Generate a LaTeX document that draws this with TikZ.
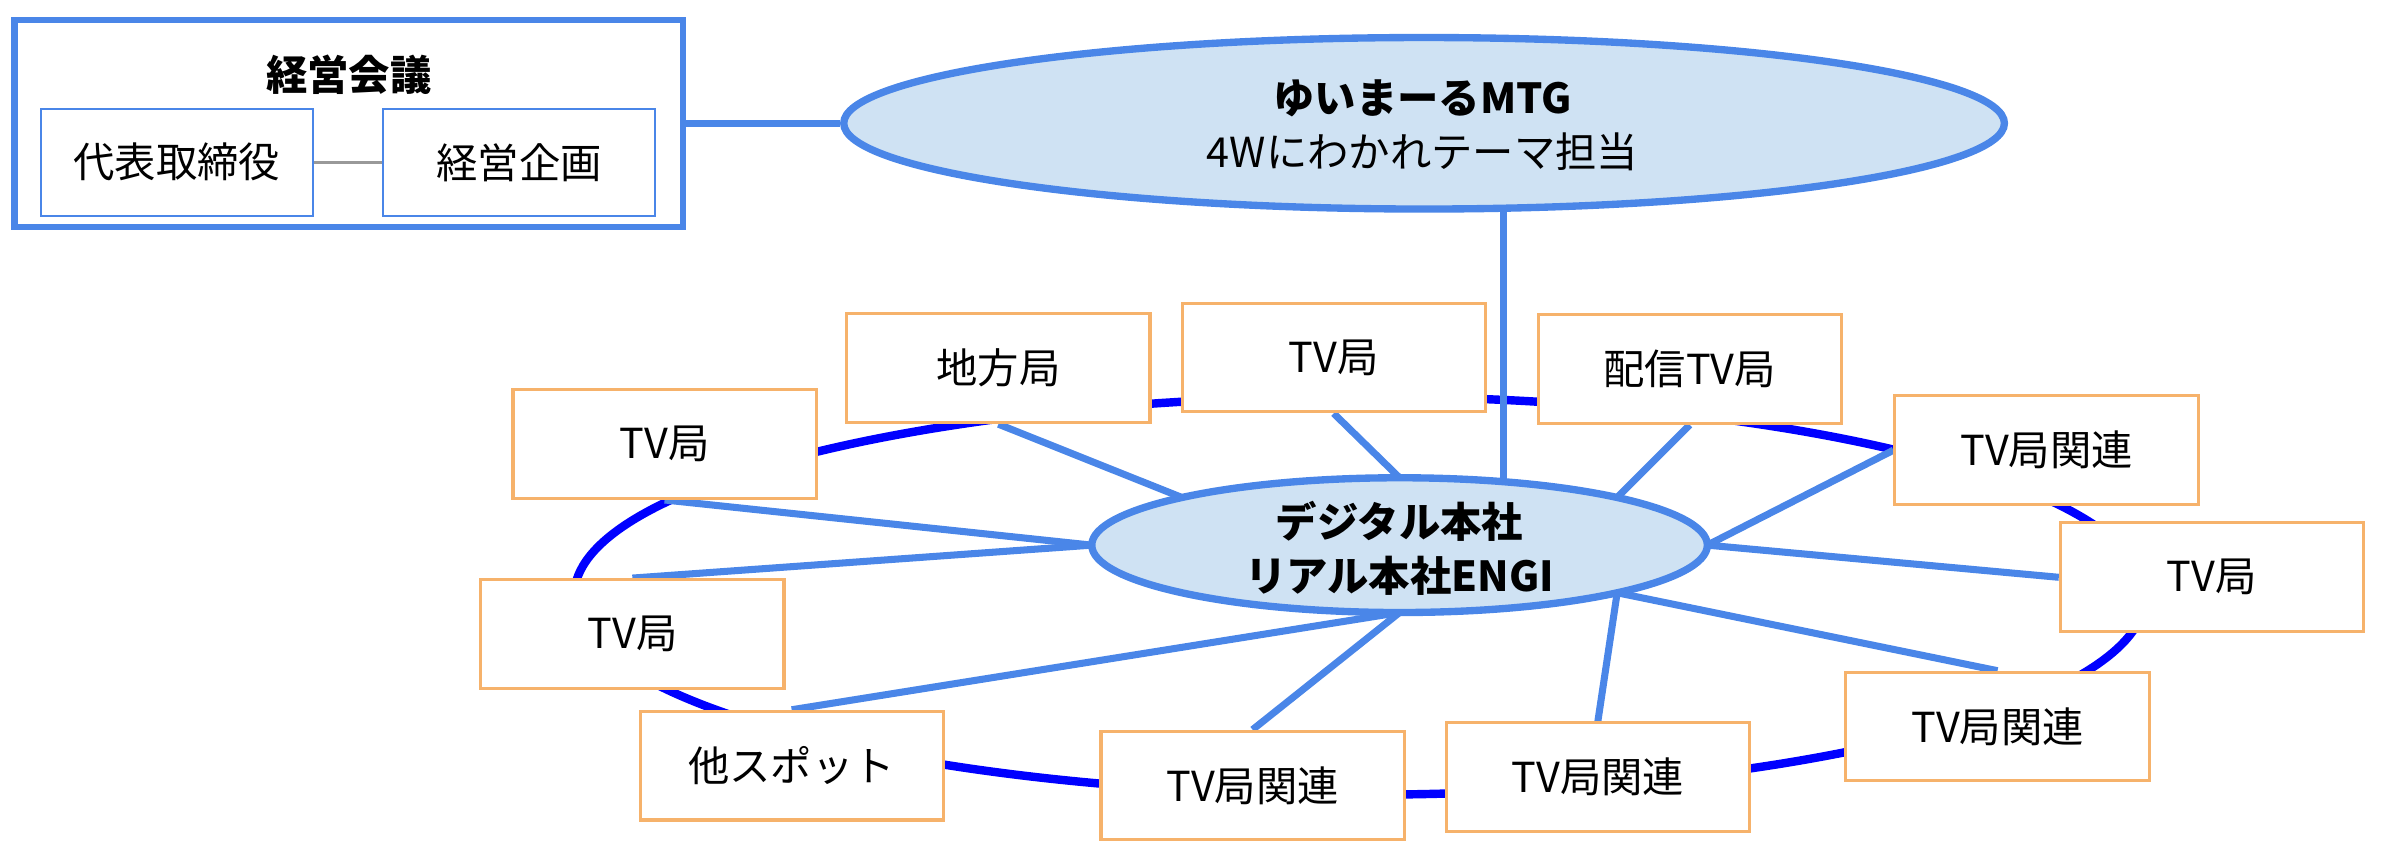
\documentclass[tikz,border=0pt]{standalone}
\usepackage{fontspec}
\setmainfont{Noto Sans CJK JP}
\usetikzlibrary{shapes.geometric,calc}
\definecolor{lblue}{HTML}{4A86E8}
\definecolor{lfill}{HTML}{CFE2F3}
\definecolor{obord}{HTML}{F6B26B}
\definecolor{orbitc}{HTML}{0000FF}
\definecolor{gline}{HTML}{999999}
\pgfdeclarelayer{bg}
\pgfsetlayers{bg,main}
\begin{document}
\begin{tikzpicture}[x=1pt,y=-1pt,
  lab/.style={font=\fontsize{27}{35}\selectfont},
  blab/.style={font=\fontsize{27}{35}\selectfont\bfseries, align=center},
  stbox/.style={draw=obord, line width=2pt, fill=white, minimum width=198pt, minimum height=71pt, inner sep=0pt, lab},
  inbox/.style={draw=lblue, line width=1.3pt, fill=white, minimum width=178pt, minimum height=70pt, inner sep=0pt, lab},
  bigell/.style={ellipse, draw=lblue, line width=4.8pt, fill=lfill, inner sep=0pt},
  spoke/.style={draw=lblue, line width=4.6pt},
  orbitline/.style={draw=orbitc, line width=5.5pt}]
\useasboundingbox (0,0) rectangle (1568,558);

% management meeting box
\node[draw=lblue, line width=4pt, fill=white, minimum width=436.5pt, minimum height=135pt, inner sep=0pt] (K) at (227.75,80.5) {};
\node[blab] (Kt) at (227.75,48.5) {経営会議};
\node[inbox] (K1) at (115.5,106) {代表取締役};
\node[inbox] (K2) at (339,106) {経営企画};
\draw[gline, line width=2pt] (K1.east) -- (K2.west);

% MTG ellipse
\node[bigell, minimum width=758pt, minimum height=112pt] (M) at (930,80.5) {};
\node[blab] (Mt) at (929,64) {ゆいまーるMTG};
\node[lab] (Ms) at (929,99) {4Wにわかれテーマ担当};

% stations
\node[stbox] (b1) at (652,240.5) {地方局};
\node[stbox] (b2) at (871,233.5) {TV局};
\node[stbox] (b3) at (1103.5,241) {配信TV局};
\node[stbox] (b4) at (1336.5,294) {TV局関連};
\node[stbox] (b5) at (1444.5,377) {TV局};
\node[stbox] (b6) at (1304.5,474.5) {TV局関連};
\node[stbox] (b7) at (1043.5,507.5) {TV局関連};
\node[stbox] (b8) at (818,513) {TV局関連};
\node[stbox] (b9) at (517,500) {他スポット};
\node[stbox] (b10) at (413,414) {TV局};
\node[stbox] (b11) at (434,290) {TV局};

% central ellipse
\node[bigell, minimum width=402pt, minimum height=88pt] (C) at (914,356) {};
\node[blab] (Ct) at (914,358) {デジタル本社\\リアル本社ENGI};

\coordinate (Cn) at ($(C.center)+(0,-44)$);
\coordinate (Cs) at ($(C.center)+(0,44)$);
\coordinate (Ce) at ($(C.center)+(201,0)$);
\coordinate (Cw) at ($(C.center)+(-201,0)$);
\coordinate (Cne) at ($(C.center)+(142.1,-31.1)$);
\coordinate (Cnw) at ($(C.center)+(-142.1,-31.1)$);
\coordinate (Cse) at ($(C.center)+(142.1,31.1)$);
\coordinate (Mv) at ($(M.center)+(52,0)$);
\coordinate (Mc) at (Mv |- C.center);

\begin{pgfonlayer}{bg}
  \node[ellipse, orbitline, minimum width=1026pt, minimum height=260pt, inner sep=0pt] (O) at (888,389) {};
  \draw[spoke] (K.east) -- (M.west);
  \draw[spoke] (Mv) -- (Mc);
  \draw[spoke] (b1.south) -- (Cnw);
  \draw[spoke] (b2.south) -- (Cn);
  \draw[spoke] (b3.south) -- (Cne);
  \draw[spoke] (b4.west) -- (Ce);
  \draw[spoke] (b5.west) -- (Ce);
  \draw[spoke] (b6.north) -- (Cse);
  \draw[spoke] (b7.north) -- (Cse);
  \draw[spoke] (b8.north) -- (Cs);
  \draw[spoke] (b9.north) -- (Cs);
  \draw[spoke] (b10.north) -- (Cw);
  \draw[spoke] (b11.south) -- (Cw);
\end{pgfonlayer}
\end{tikzpicture}
\end{document}
